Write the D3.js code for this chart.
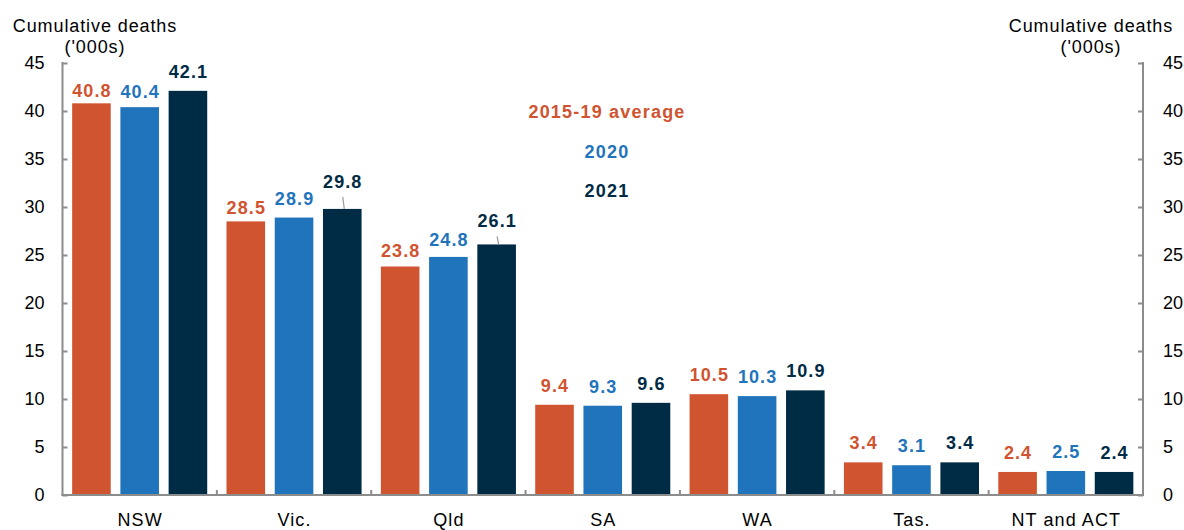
<!DOCTYPE html>
<html>
<head>
<meta charset="utf-8">
<script src="https://cdn.jsdelivr.net/npm/d3@7"></script>
<style>
  html, body { margin: 0; padding: 0; background: #fff; }
  svg { display: block; font-family: "Liberation Sans", Arial, sans-serif; }
</style>
</head>
<body>
<svg id="chart" width="1184" height="530"></svg>
<script>
// ---- Data ----
const categories = ["NSW", "Vic.", "Qld", "SA", "WA", "Tas.", "NT and ACT"];
const seriesNames = ["2015-19 average", "2020", "2021"];
const avg2015_19 = [40.8, 28.5, 23.8, 9.4, 10.5, 3.4, 2.4];
const values2020 = [40.4, 28.9, 24.8, 9.3, 10.3, 3.1, 2.5];
const values2021 = [42.1, 29.8, 26.1, 9.6, 10.9, 3.4, 2.4];
const yTicks = [0, 5, 10, 15, 20, 25, 30, 35, 40, 45];

// ---- Style ----
const colors = ["#D15430", "#1F74BC", "#002B45"];
const axisColor = "#8c8c8c";
// label gap above bar (px); a few labels were moved by hand in the original
const defaultGap = 13;
const labelGap = { "NSW|0": 6, "NSW|1": 9, "Vic.|0": 7, "Vic.|2": 21, "Qld|0": 10, "Qld|1": 11, "Qld|2": 17 };
const leaderLines = { "Vic.|2": true, "Qld|2": true };

const seriesValues = [avg2015_19, values2020, values2021];
const rows = [];
categories.forEach((c, i) => {
  seriesValues.forEach((vals, s) => rows.push({ cat: c, s, v: vals[i] }));
});

const svg = d3.select("#chart");
const plotL = 62.5, plotR = 1143, plotT = 63, plotB = 495;

const x0 = d3.scaleBand().domain(categories).range([plotL, plotR]).padding(0);
const x1 = d3.scaleBand().domain(d3.range(3)).range([0, x0.bandwidth()])
  .paddingInner(0.2).paddingOuter(0.2);
const y = d3.scaleLinear().domain([0, 45]).range([plotB, plotT]);

// Bars
svg.append("g").selectAll("rect").data(rows).join("rect")
  .attr("x", d => x0(d.cat) + x1(d.s))
  .attr("y", d => y(d.v))
  .attr("width", x1.bandwidth())
  .attr("height", d => y(0) - y(d.v))
  .attr("fill", d => colors[d.s]);

// Data labels
const lab = svg.append("g").attr("font-weight", "bold").attr("font-size", 18)
  .attr("letter-spacing", 1.1).attr("text-anchor", "middle");
rows.forEach(d => {
  const key = d.cat + "|" + d.s;
  const gap = labelGap[key] !== undefined ? labelGap[key] : defaultGap;
  const cx = x0(d.cat) + x1(d.s) + x1.bandwidth() / 2;
  const by = y(d.v);
  lab.append("text")
    .attr("x", cx + 0.5).attr("y", by - gap)
    .attr("fill", colors[d.s])
    .text(d.v.toFixed(1));
  if (leaderLines[key]) {
    svg.append("line")
      .attr("x1", cx + 0.5).attr("y1", by - gap + 9)
      .attr("x2", cx + 2).attr("y2", by)
      .attr("stroke", "#9a9a9a").attr("stroke-width", 1.2);
  }
});

// Left axis
const gL = svg.append("g").attr("transform", `translate(${plotL},0)`)
  .call(d3.axisRight(y).tickValues(yTicks).tickSize(5).tickFormat(""));
gL.select(".domain").remove();
gL.selectAll("line").attr("stroke", axisColor).attr("stroke-width", 2);
svg.append("line").attr("x1", plotL).attr("x2", plotL).attr("y1", plotT - 1).attr("y2", plotB + 1)
  .attr("stroke", axisColor).attr("stroke-width", 2);
svg.append("g").selectAll("text").data(yTicks).join("text")
  .attr("x", plotL - 18).attr("y", d => y(d)).attr("dy", "0.36em")
  .attr("text-anchor", "end").attr("font-size", 18).attr("fill", "#000")
  .text(d => d);

// Right axis
const gR = svg.append("g").attr("transform", `translate(${plotR},0)`)
  .call(d3.axisLeft(y).tickValues(yTicks).tickSize(5).tickFormat(""));
gR.select(".domain").remove();
gR.selectAll("line").attr("stroke", axisColor).attr("stroke-width", 2);
svg.append("line").attr("x1", plotR).attr("x2", plotR).attr("y1", plotT - 1).attr("y2", plotB + 1)
  .attr("stroke", axisColor).attr("stroke-width", 2);
svg.append("g").selectAll("text").data(yTicks).join("text")
  .attr("x", plotR + 20).attr("y", d => y(d)).attr("dy", "0.36em")
  .attr("text-anchor", "start").attr("font-size", 18).attr("fill", "#000")
  .text(d => d);

// Bottom axis
svg.append("line").attr("x1", plotL - 1).attr("x2", plotR + 1).attr("y1", plotB).attr("y2", plotB)
  .attr("stroke", axisColor).attr("stroke-width", 2);
svg.append("g").selectAll("line").data(categories.slice(1)).join("line")
  .attr("x1", d => x0(d)).attr("x2", d => x0(d))
  .attr("y1", plotB).attr("y2", plotB - 5)
  .attr("stroke", axisColor).attr("stroke-width", 2);
svg.append("g").selectAll("text").data(categories).join("text")
  .attr("x", d => x0(d) + x0.bandwidth() / 2 + 0.5).attr("y", 526)
  .attr("text-anchor", "middle").attr("font-size", 18).attr("letter-spacing", 1.1)
  .attr("fill", "#000")
  .text(d => d);

// Axis titles
[95, 1091].forEach(cx => {
  const t = svg.append("text").attr("text-anchor", "middle").attr("font-size", 18)
    .attr("letter-spacing", 0.9).attr("fill", "#000");
  t.append("tspan").attr("x", cx).attr("y", 32).text("Cumulative deaths");
  t.append("tspan").attr("x", cx).attr("y", 53).text("('000s)");
});

// Legend
svg.append("g").selectAll("text").data(seriesNames).join("text")
  .attr("x", 607).attr("y", (d, i) => 118 + i * 39.5)
  .attr("text-anchor", "middle").attr("font-size", 18).attr("font-weight", "bold")
  .attr("letter-spacing", 1.2)
  .attr("fill", (d, i) => colors[i])
  .text(d => d);
</script>
</body>
</html>
